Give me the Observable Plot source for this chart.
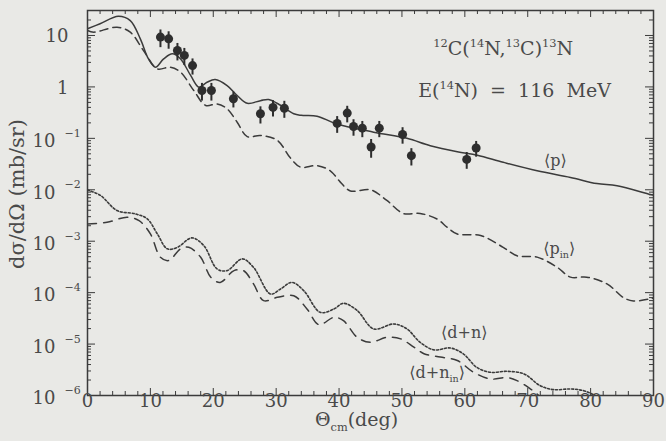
<!DOCTYPE html>
<html><head><meta charset="utf-8">
<script src="https://cdn.jsdelivr.net/npm/d3@7"></script>
<script src="https://cdn.jsdelivr.net/npm/@observablehq/plot@0.6"></script>
<style>
html,body{margin:0;padding:0;background:#e9e9e6;}
svg text{white-space:pre;}
</style></head><body><div id="chart"></div>
<script>
// ---- data ----
// <p> solid curve
const angleP = [0, 2, 4.9, 6.8, 8.4, 9.7, 10.8, 12.1, 13.5, 14.8, 16.4, 17.7, 19, 20.3, 22.2, 23.8, 25.4, 27.5, 28.8, 30.7, 32.8, 34, 36.5, 39.4, 45.5, 50.8, 54.5, 58.8, 62, 66.1, 71.5, 76.8, 81, 84.2, 89.5, 90];
const sigmaP = [13.5, 16.9, 23.7, 19.5, 8.6, 3.5, 2.42, 3.5, 4.4, 3.5, 1.67, 0.99, 1.23, 1.39, 1.06, 0.68, 0.48, 0.54, 0.57, 0.44, 0.30, 0.28, 0.27, 0.195, 0.132, 0.10, 0.072, 0.055, 0.047, 0.0343, 0.0234, 0.0174, 0.0132, 0.012, 0.0081, 0.0079];
// <p_in> dashed curve
const anglePin = [0, 1, 4.7, 6.8, 8.9, 11.1, 13.2, 14.8, 16.9, 18.8, 20.6, 22.2, 23.8, 25.4, 27.5, 30.2, 32.3, 33.9, 36.5, 38.6, 40.2, 41.8, 45, 47.6, 50.2, 52.9, 55.6, 57.2, 58.8, 62.5, 66.1, 68.3, 71.5, 74.7, 76.8, 79.4, 82.6, 85.3, 86.8, 89.5, 90];
const sigmaPin = [12.5, 11.6, 14.5, 11.6, 5.1, 2.25, 2.42, 1.93, 0.85, 0.435, 0.468, 0.375, 0.206, 0.108, 0.114, 0.091, 0.041, 0.0275, 0.0295, 0.0234, 0.0141, 0.0095, 0.0100, 0.0062, 0.00347, 0.00347, 0.00269, 0.00186, 0.00138, 0.00129, 7.6e-4, 5.2e-4, 4.9e-4, 3.1e-4, 2.0e-4, 2.0e-4, 1.48e-4, 7.9e-5, 6.9e-5, 7.6e-5, 7.9e-5];
// <d+n> dotted curve
const angleDN = [0, 2.1, 4.7, 7.6, 9.5, 11.1, 12.7, 14.3, 16.6, 18.5, 20.6, 22.2, 24.6, 26.4, 29.1, 30.7, 32.5, 34.4, 37, 39.2, 40.7, 42.9, 45.5, 48.7, 50.8, 52.9, 55.1, 57.7, 59.8, 61.9, 64.1, 66.7, 69.4, 72, 74.1, 76.8, 78.9, 80.5, 82];
const sigmaDN = [9.95e-3, 7.7e-3, 3.94e-3, 3.4e-3, 2.72e-3, 1.39e-3, 7.1e-4, 7.6e-4, 1.16e-3, 8.2e-4, 2.89e-4, 2.68e-4, 4.53e-4, 3.1e-4, 9.4e-5, 1.18e-4, 1.58e-4, 1.09e-4, 4.14e-5, 4.82e-5, 6.2e-5, 4.47e-5, 1.97e-5, 2.46e-5, 1.97e-5, 1.08e-5, 7.7e-6, 8.4e-6, 6.4e-6, 3.52e-6, 2.82e-6, 2.95e-6, 2.63e-6, 1.55e-6, 1.3e-6, 1.34e-6, 1.24e-6, 1.03e-6, 8e-7];
// <d+n_in> long-dashed curve
const angleDNin = [0, 3.1, 6.3, 8.2, 10, 11.6, 12.9, 14.8, 16.1, 18, 19.6, 21.1, 23.3, 24.8, 26.4, 28, 30.2, 32.8, 34.9, 36.8, 39.2, 40.7, 42.9, 45, 47.6, 49.8, 51.9, 53.5, 56.1, 58.8, 61.4, 64.1, 66.7, 68.3, 70.4, 71.5, 72.5];
const sigmaDNin = [2.17e-3, 2.33e-3, 2.92e-3, 2.51e-3, 1.39e-3, 4.86e-4, 4.2e-4, 7.1e-4, 7.6e-4, 4.86e-4, 1.99e-4, 1.58e-4, 2.68e-4, 2.68e-4, 1.48e-4, 7.0e-5, 8.1e-5, 8.7e-5, 4.82e-5, 2.38e-5, 3.31e-5, 2.85e-5, 1.35e-5, 1.08e-5, 1.35e-5, 1.26e-5, 8.7e-6, 6.5e-6, 5.6e-6, 4.8e-6, 2.82e-6, 2.09e-6, 2.24e-6, 1.95e-6, 1.35e-6, 1.07e-6, 8e-7];
// measured points
const angleData = [11.6, 12.9, 14.3, 15.4, 16.7, 18.2, 19.7, 23.2, 27.5, 29.5, 31.3, 39.7, 41.3, 42.3, 43.7, 45.1, 46.4, 50.1, 51.5, 60.3, 61.8];
const sigmaData = [9.3, 8.6, 5.1, 4.1, 2.6, 0.85, 0.85, 0.59, 0.30, 0.40, 0.385, 0.195, 0.31, 0.17, 0.158, 0.068, 0.158, 0.119, 0.046, 0.039, 0.065];
const errData   = [3.5, 3.2, 1.9, 1.5, 0.9, 0.32, 0.32, 0.2, 0.11, 0.14, 0.14, 0.07, 0.11, 0.06, 0.055, 0.027, 0.055, 0.042, 0.017, 0.014, 0.022];
// ticks
const xTickLabels = [0, 10, 20, 30, 40, 50, 60, 70, 80, 90];
const xMinorTicks = [2,4,6,8,12,14,16,18,22,24,26,28,32,34,36,38,42,44,46,48,52,54,56,58,62,64,66,68,72,74,76,78,82,84,86,88];
const yDecades = [10, 1, 1e-1, 1e-2, 1e-3, 1e-4, 1e-5, 1e-6];
const yTickBase = ["10", "1", "10", "10", "10", "10", "10", "10"];
const yTickExp = ["", "", "\u22121", "\u22122", "\u22123", "\u22124", "\u22125", "\u22126"];
const yMinorTicks = [];
for (const d of [1e-6,1e-5,1e-4,1e-3,1e-2,1e-1,1,10]) for (const m of [2,3,4,5,6,7,8,9]) if (d*m < 30) yMinorTicks.push(d*m);

const ink = "#3b3b3b";
const txt = "#4a4a4a";
const serif = "DejaVu Serif";

const plot = Plot.plot({
  width: 666, height: 441,
  marginLeft: 87, marginRight: 13, marginTop: 10, marginBottom: 46,
  style: {background: "#e9e9e6", fontFamily: serif, color: ink},
  x: {domain: [0, 90], axis: null},
  y: {type: "log", domain: [1e-6, 30.6], axis: null},
  marks: [
    // ticks (inward)
    Plot.tickX(xTickLabels, {x: d => d, stroke: ink, insetTop: 378}),
    Plot.tickX(xTickLabels, {x: d => d, stroke: ink, insetBottom: 378}),
    Plot.tickX(xMinorTicks, {x: d => d, stroke: ink, insetTop: 381}),
    Plot.tickX(xMinorTicks, {x: d => d, stroke: ink, insetBottom: 381}),
    Plot.tickY(yDecades, {y: d => d, stroke: ink, insetRight: 558}),
    Plot.tickY(yDecades, {y: d => d, stroke: ink, insetLeft: 558}),
    Plot.tickY(yMinorTicks, {y: d => d, stroke: ink, insetRight: 562}),
    Plot.tickY(yMinorTicks, {y: d => d, stroke: ink, insetLeft: 562}),
    Plot.frame({stroke: ink, strokeWidth: 1.5}),
    // x tick labels
    Plot.text(xTickLabels, {x: d => d, frameAnchor: "bottom", text: d => String(d), dy: 11, fontSize: 18, fill: txt}),
    // y tick labels
    Plot.text(yDecades.slice(0, 2), {y: d => d, frameAnchor: "left", text: (d, i) => yTickBase[i], textAnchor: "end", dx: -19, dy: 1, fontSize: 18, fill: txt}),
    Plot.text(yDecades.slice(2), {y: d => d, frameAnchor: "left", text: (d, i) => yTickBase[i + 2], textAnchor: "end", dx: -32, dy: 3, fontSize: 18, fill: txt}),
    Plot.text(yDecades.slice(2), {y: d => d, frameAnchor: "left", text: (d, i) => yTickExp[i + 2], textAnchor: "start", dx: -23, dy: -5, fontSize: 11, fill: txt}),
    // axis titles
    Plot.text(["dσ/dΩ (mb/sr)"], {frameAnchor: "left", text: d => d, rotate: -90, textAnchor: "middle", dx: -70, dy: -9, fontSize: 21, letterSpacing: 1, fill: txt}),
    Plot.text(["XLABEL"], {frameAnchor: "bottom", text: d => d, textAnchor: "middle", dx: -14, dy: 30, fontSize: 19, fill: txt}),
    // curves
    Plot.line(angleP, {x: angleP, y: sigmaP, curve: "catmull-rom", stroke: ink, strokeWidth: 1.5, clip: true}),
    Plot.line(anglePin, {x: anglePin, y: sigmaPin, curve: "catmull-rom", stroke: ink, strokeWidth: 1.5, strokeDasharray: "8,5", clip: true}),
    Plot.line(angleDN, {x: angleDN, y: sigmaDN, curve: "catmull-rom", stroke: ink, strokeWidth: 1.6, strokeDasharray: "2,2", clip: true}),
    Plot.line(angleDNin, {x: angleDNin, y: sigmaDNin, curve: "catmull-rom", stroke: ink, strokeWidth: 1.5, strokeDasharray: "9,7", clip: true}),
    // data with error bars
    Plot.ruleX(angleData, {x: angleData, y1: sigmaData.map((v, i) => v - errData[i]), y2: sigmaData.map((v, i) => v + errData[i]), stroke: "#2e2e2e", strokeWidth: 2}),
    Plot.dot(angleData, {x: angleData, y: sigmaData, r: 4.5, fill: "#2e2e2e", stroke: "none"}),
    // annotations
    Plot.text(["REACTION"], {x: 66.1, y: 5.6, text: d => d, fontSize: 19, fill: txt}),
    Plot.text(["ENERGY"], {x: 67.9, y: 0.85, text: d => d, fontSize: 19, fill: txt}),
    Plot.text(["\u27E8p\u27E9"], {x: 74.4, y: 0.037, text: d => d, fontSize: 16, fill: txt}),
    Plot.text(["PIN"], {x: 75.0, y: 7.2e-4, text: d => d, fontSize: 16, fill: txt}),
    Plot.text(["\u27E8d+n\u27E9"], {x: 59.9, y: 1.66e-5, text: d => d, fontSize: 16, fill: txt}),
    Plot.text(["DNIN"], {x: 55.6, y: 2.8e-6, text: d => d, fontSize: 16, fill: txt})
  ]
});

// rich text (super/subscripts) as real text with tspans
const rich = {
  "REACTION": [[19], ["12", "sup"], ["C(", ""], ["14", "sup"], ["N,", ""], ["13", "sup"], ["C)", ""], ["13", "sup"], ["N", ""]],
  "ENERGY": [[19], ["E(", ""], ["14", "sup"], ["N)  =  116  MeV", ""]],
  "PIN": [[16], ["\u27E8p", ""], ["in", "sub"], ["\u27E9", ""]],
  "DNIN": [[16], ["\u27E8d+n", ""], ["in", "sub"], ["\u27E9", ""]],
  "XLABEL": [[19], ["\u0398", ""], ["cm", "sub"], ["(deg)", ""]]
};
const ns = "http://www.w3.org/2000/svg";
plot.querySelectorAll("text").forEach(el => {
  const spec = rich[el.textContent];
  if (!spec) return;
  const size = spec[0][0];
  el.textContent = "";
  let shift = 0;
  for (const [s, kind] of spec.slice(1)) {
    const t = document.createElementNS(ns, "tspan");
    const target = kind === "sup" ? -0.4 * size : kind === "sub" ? 0.28 * size : 0;
    const dy = target - shift; shift = target;
    if (dy) t.setAttribute("dy", dy.toFixed(2));
    if (kind) t.setAttribute("font-size", (0.6 * size).toFixed(1));
    t.textContent = s;
    el.appendChild(t);
  }
});
document.getElementById("chart").appendChild(plot);
</script></body></html>
